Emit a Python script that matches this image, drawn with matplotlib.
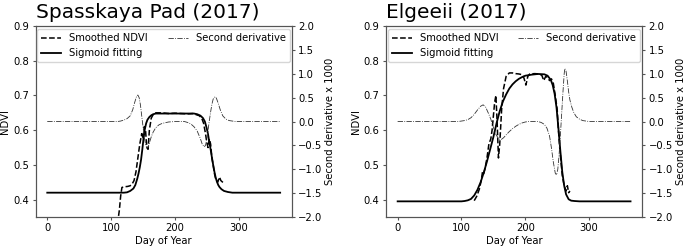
import numpy as np
import matplotlib
matplotlib.use('Agg')
import matplotlib.pyplot as plt

# ---- Spasskaya Pad (2017) ----
sp_sig_doy = [0, 120, 125, 130, 135, 138, 141, 143, 145, 147, 149, 151, 153, 155, 157, 160, 163, 166, 170,
              230, 235, 240, 244, 247, 250, 252, 254, 256, 258, 260, 262, 264, 266, 268, 270, 273, 277, 283, 290, 365]
sp_sig = [0.420, 0.420, 0.421, 0.425, 0.432, 0.442, 0.460, 0.475, 0.493, 0.515, 0.545, 0.578, 0.604, 0.620, 0.630, 0.638, 0.643, 0.646, 0.648,
          0.648, 0.646, 0.642, 0.635, 0.625, 0.605, 0.588, 0.565, 0.545, 0.522, 0.500, 0.480, 0.463, 0.451, 0.442, 0.436, 0.430, 0.425, 0.422, 0.420, 0.420]

sp_ndvi_doy = [110, 113, 115, 117, 121, 126, 130, 133, 136, 139, 142, 145, 148, 150, 152, 154, 156, 158, 160, 163, 166, 170,
               180, 190, 200, 210, 220, 228, 233, 238, 242, 245, 248, 250, 252, 254, 256, 258, 260, 262, 264, 267, 270, 272, 275, 278]
sp_ndvi = [0.33, 0.37, 0.41, 0.435, 0.437, 0.438, 0.44, 0.445, 0.455, 0.48, 0.52, 0.56, 0.59, 0.575, 0.61, 0.60, 0.55, 0.545, 0.60, 0.635, 0.645, 0.65,
           0.65, 0.648, 0.649, 0.648, 0.647, 0.648, 0.645, 0.642, 0.635, 0.62, 0.59, 0.565, 0.55, 0.575, 0.56, 0.52, 0.50, 0.475, 0.46, 0.45, 0.465, 0.455, 0.45, 0.445]

sp_d2_doy = [0, 110, 115, 120, 125, 130, 134, 137, 140, 142, 144, 146, 148, 150, 152, 154, 156, 158, 160, 163, 166, 170, 175, 180, 190, 200,
             215, 220, 225, 230, 235, 240, 243, 246, 248, 250, 252, 254, 256, 258, 260, 263, 265, 268, 271, 275, 280, 285, 290, 295, 365]
sp_d2 = [0, 0, 0.01, 0.03, 0.06, 0.12, 0.25, 0.40, 0.53, 0.555, 0.50, 0.35, 0.12, -0.10, -0.32, -0.48, -0.55, -0.54, -0.45, -0.32, -0.22, -0.13, -0.07, -0.04, -0.01, 0.0,
         0.0, -0.02, -0.05, -0.11, -0.20, -0.36, -0.48, -0.53, -0.50, -0.38, -0.18, 0.02, 0.20, 0.36, 0.47, 0.52, 0.49, 0.38, 0.25, 0.12, 0.05, 0.02, 0.01, 0, 0]

# ---- Elgeeii (2017) ----
el_sig_doy = [0, 100, 105, 110, 115, 120, 125, 130, 135, 140, 145, 150, 155, 160, 165, 170, 175, 180, 185, 190, 195, 200, 210, 220,
              230, 235, 240, 243, 246, 249, 252, 255, 258, 261, 264, 268, 272, 277, 285, 365]
el_sig = [0.395, 0.395, 0.396, 0.398, 0.402, 0.412, 0.428, 0.450, 0.478, 0.510, 0.545, 0.580, 0.620, 0.655, 0.683, 0.703, 0.720, 0.732, 0.741, 0.748, 0.753, 0.757, 0.760, 0.762,
          0.761, 0.757, 0.745, 0.730, 0.705, 0.665, 0.605, 0.540, 0.480, 0.440, 0.415, 0.401, 0.397, 0.396, 0.395, 0.395]

el_ndvi_doy = [120, 124, 128, 131, 133, 135, 137, 140, 143, 146, 148, 150, 152, 154, 156, 158, 160, 163, 166, 170, 175, 180, 185, 190, 195, 198, 201, 204, 207,
               215, 222, 226, 229, 232, 235, 238, 241, 244, 247, 250, 252, 254, 256, 258, 261, 264, 266, 268, 270]
el_ndvi = [0.397, 0.41, 0.43, 0.455, 0.48, 0.475, 0.49, 0.52, 0.56, 0.575, 0.60, 0.64, 0.68, 0.70, 0.62, 0.52, 0.56, 0.66, 0.72, 0.755, 0.765, 0.765, 0.763, 0.762, 0.76, 0.75, 0.73, 0.755, 0.762,
           0.763, 0.762, 0.758, 0.743, 0.755, 0.752, 0.743, 0.748, 0.735, 0.70, 0.66, 0.60, 0.55, 0.51, 0.47, 0.44, 0.425, 0.44, 0.42, 0.425]

el_d2_doy = [0, 95, 100, 105, 110, 115, 120, 125, 130, 134, 138, 142, 146, 150, 154, 158, 162, 166, 170, 175, 180, 185, 190, 195, 200, 205,
             220, 225, 230, 234, 238, 241, 244, 247, 249, 251, 253, 255, 257, 259, 261, 262, 264, 266, 268, 270, 273, 276, 280, 285, 290, 295, 300, 365]
el_d2 = [0, 0, 0.01, 0.02, 0.04, 0.08, 0.15, 0.24, 0.32, 0.35, 0.30, 0.18, 0.05, -0.12, -0.27, -0.36, -0.38, -0.34, -0.28, -0.21, -0.15, -0.10, -0.06, -0.03, -0.01, 0.0,
         0.0, -0.02, -0.06, -0.14, -0.30, -0.55, -0.85, -1.08, -1.12, -1.0, -0.7, -0.3, 0.15, 0.6, 1.0, 1.11, 1.05, 0.85, 0.62, 0.45, 0.30, 0.19, 0.10, 0.05, 0.02, 0.01, 0, 0]

panels = [
    ("Spasskaya Pad (2017)", sp_ndvi_doy, sp_ndvi, sp_sig_doy, sp_sig, sp_d2_doy, sp_d2, [0.052, 0.118, 0.374, 0.776]),
    ("Elgeeii (2017)", el_ndvi_doy, el_ndvi, el_sig_doy, el_sig, el_d2_doy, el_d2, [0.5635, 0.118, 0.374, 0.776]),
]

fs = 7.2
fig = plt.figure(figsize=(6.85, 2.46), dpi=100)

for title, nd_x, nd_y, sg_x, sg_y, d2_x, d2_y, rect in panels:
    ax = fig.add_axes(rect)
    ax2 = ax.twinx()
    l1, = ax.plot(nd_x, nd_y, 'k--', lw=1.1, label='Smoothed NDVI')
    l2, = ax.plot(sg_x, sg_y, 'k-', lw=1.3, label='Sigmoid fitting')
    l3, = ax2.plot(d2_x, d2_y, color='#333333', ls='-.', lw=0.6, label='Second derivative')
    ax.set_xlim(-18.25, 383.25)
    ax.set_ylim(0.35, 0.9)
    ax2.set_ylim(-2.0, 2.0)
    ax.set_xticks([0, 100, 200, 300])
    ax.set_yticks([0.4, 0.5, 0.6, 0.7, 0.8, 0.9])
    ax2.set_yticks(np.arange(-2.0, 2.01, 0.5))
    ax.tick_params(labelsize=fs, length=2.5, pad=2.2, color='#555555')
    ax2.tick_params(labelsize=fs, length=2.5, pad=2.2, color='#555555')
    for a in (ax, ax2):
        for s in a.spines.values():
            s.set_color('#555555')
    ax.set_xlabel("Day of Year", fontsize=fs, labelpad=1.5)
    ax.set_ylabel("NDVI", fontsize=fs, labelpad=2)
    ax2.set_ylabel("Second derivative x 1000", fontsize=fs, labelpad=2)
    ax.set_title(title, fontsize=14.5, loc='left', pad=5.5)
    ax2.legend([l1, l2, l3], ['Smoothed NDVI', 'Sigmoid fitting', 'Second derivative'],
               ncol=2, loc='upper center', fontsize=fs, borderaxespad=0.3)

fig.savefig("out.png", dpi=100)
